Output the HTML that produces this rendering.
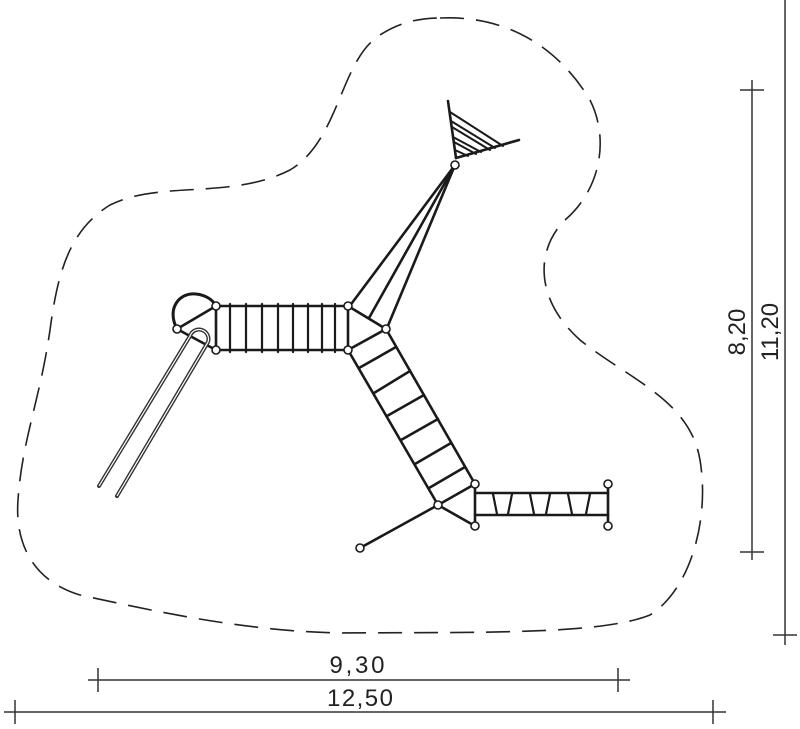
<!DOCTYPE html>
<html><head><meta charset="utf-8"><style>
html,body{margin:0;padding:0;background:#fff}
svg{display:block}
text{font-family:"Liberation Sans",sans-serif;font-size:24px;fill:#222}
</style></head><body>
<svg width="800" height="729" viewBox="0 0 800 729" xmlns="http://www.w3.org/2000/svg">
<path d="M440,18 C510,15 560,50 590,100 C610,140 600,190 565,220 C535,250 535,300 580,340 C630,380 690,400 700,460 C710,520 690,590 650,615 C600,635 480,632 340,633 C240,631 150,610 80,595 C30,580 15,540 18,500 C22,440 40,400 50,330 C58,270 70,230 110,205 C160,180 230,200 290,170 C340,140 340,60 380,35 C400,22 420,18 440,18 Z" fill="none" stroke="#222" stroke-width="1.6" stroke-dasharray="24,12"/>
<g stroke="#333" stroke-width="1.5" fill="none">
<line x1="88" y1="680" x2="630" y2="680"/><line x1="98" y1="668" x2="98" y2="692"/><line x1="618" y1="668" x2="618" y2="692"/>
<line x1="4" y1="712" x2="726" y2="712"/><line x1="15" y1="700" x2="15" y2="724"/><line x1="713" y1="700" x2="713" y2="724"/>
<line x1="752" y1="80" x2="752" y2="560"/><line x1="740" y1="90" x2="764" y2="90"/><line x1="740" y1="552" x2="764" y2="552"/>
<line x1="785" y1="0" x2="785" y2="645"/><line x1="773" y1="635" x2="797" y2="635"/>
</g>
<text x="357" y="673" text-anchor="middle" textLength="55">9,30</text>
<text x="360" y="706" text-anchor="middle" textLength="66">12,50</text>
<text transform="translate(745,332) rotate(-90)" text-anchor="middle">8,20</text>
<text transform="translate(778,332) rotate(-90)" text-anchor="middle">11,20</text>
<g stroke="#1a1a1a" stroke-width="2.6" fill="none" stroke-linecap="round">
<line x1="349" y1="307" x2="455" y2="165"/><line x1="369" y1="318" x2="455" y2="165"/><line x1="387" y1="328" x2="455" y2="165"/>
<line x1="448" y1="101" x2="456" y2="158"/><line x1="456" y1="158" x2="519" y2="140"/>
<g stroke-width="2"><line x1="450" y1="112" x2="503" y2="146"/><line x1="451" y1="121" x2="495" y2="148"/><line x1="452" y1="127" x2="490" y2="150"/><line x1="453" y1="137" x2="481" y2="152"/><line x1="454" y1="142" x2="476" y2="154"/><line x1="455" y1="150" x2="468" y2="156"/></g>
<line x1="216" y1="306" x2="348" y2="306"/><line x1="216" y1="350" x2="348" y2="350"/>
<line x1="216" y1="306" x2="216" y2="350"/><line x1="348" y1="306" x2="348" y2="350"/>
<g stroke-width="2.2">
<line x1="230" y1="304" x2="230" y2="352"/><line x1="246" y1="304" x2="246" y2="352"/><line x1="262" y1="304" x2="262" y2="352"/><line x1="278" y1="304" x2="278" y2="352"/><line x1="293" y1="304" x2="293" y2="352"/><line x1="308" y1="304" x2="308" y2="352"/><line x1="322" y1="304" x2="322" y2="352"/><line x1="335" y1="304" x2="335" y2="352"/>
</g>
<line x1="177" y1="329" x2="216" y2="306"/>
<path d="M177,329 C166,308 180,292 196,294 C206,295 213,300 216,306" stroke-width="3"/>
<line x1="177" y1="329" x2="216" y2="350"/>
<line x1="348" y1="306" x2="386" y2="329"/><line x1="348" y1="350" x2="386" y2="329"/>
<line x1="348" y1="350" x2="438" y2="505"/><line x1="386" y1="329" x2="475" y2="484"/>
<line x1="359" y1="368" x2="396" y2="347"/><line x1="374" y1="393" x2="410" y2="371"/><line x1="387" y1="416" x2="424" y2="395"/><line x1="401" y1="440" x2="438" y2="419"/><line x1="415" y1="464" x2="451" y2="443"/><line x1="429" y1="488" x2="465" y2="467"/>
<line x1="438" y1="505" x2="475" y2="484"/><line x1="438" y1="505" x2="475" y2="526"/><line x1="438" y1="505" x2="360" y2="548"/>
<line x1="475" y1="484" x2="475" y2="526"/><line x1="608" y1="484" x2="608" y2="526"/>
<line x1="475" y1="493" x2="608" y2="493"/><line x1="475" y1="515" x2="608" y2="515"/>
<g stroke-width="2.2"><line x1="493" y1="494" x2="497" y2="514"/><line x1="512" y1="494" x2="508" y2="514"/><line x1="530" y1="494" x2="534" y2="514"/><line x1="550" y1="494" x2="546" y2="514"/><line x1="568" y1="494" x2="572" y2="514"/><line x1="590" y1="494" x2="586" y2="514"/></g>
</g>
<path d="M99,486 L190,336 A9,9 0 0 1 208,342 L117,496" fill="none" stroke="#333" stroke-width="4" stroke-linecap="round"/>
<path d="M99,486 L190,336 A9,9 0 0 1 208,342 L117,496" fill="none" stroke="#fff" stroke-width="1.2"/>
<g fill="#fff" stroke="#1a1a1a" stroke-width="1.6">
<circle cx="177" cy="329" r="4"/><circle cx="216" cy="306" r="4"/><circle cx="216" cy="350" r="4"/>
<circle cx="348" cy="306" r="4"/><circle cx="348" cy="350" r="4"/><circle cx="386" cy="329" r="4"/>
<circle cx="455" cy="165" r="4"/>
<circle cx="438" cy="505" r="4"/><circle cx="475" cy="484" r="4"/><circle cx="475" cy="526" r="4"/>
<circle cx="608" cy="484" r="4"/><circle cx="608" cy="526" r="4"/><circle cx="360" cy="548" r="4"/>
</g>
</svg>
</body></html>
